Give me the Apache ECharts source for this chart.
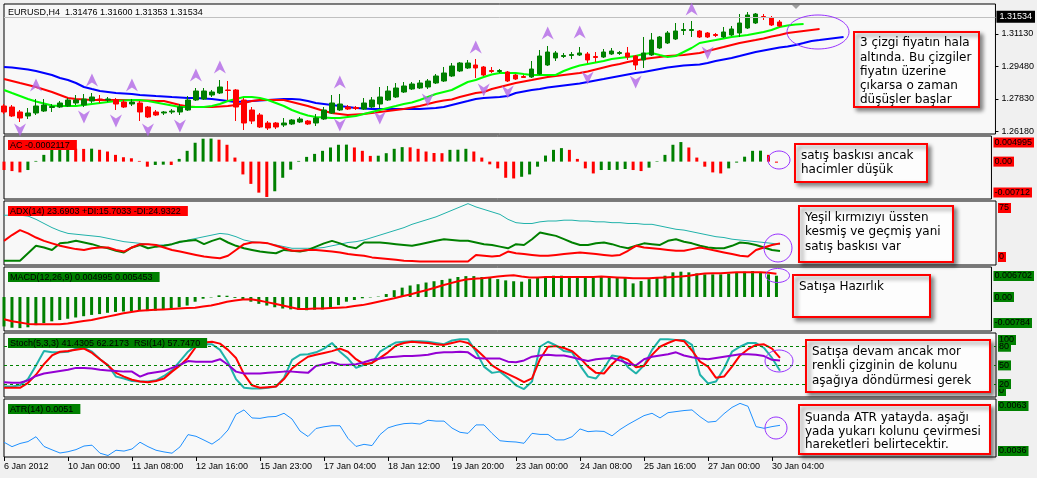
<!DOCTYPE html>
<html><head><meta charset="utf-8">
<script src="https://cdn.jsdelivr.net/npm/echarts@6/dist/echarts.min.js"></script>
<style>html,body{margin:0;padding:0;background:#f0f0f0;}#c{width:1037px;height:478px;}</style>
</head><body><div id="c"></div>
<script>
// ---------- DATA ----------
const tickLabels = ['6 Jan 2012','10 Jan 00:00','11 Jan 08:00','12 Jan 16:00','15 Jan 23:00','17 Jan 04:00','18 Jan 12:00','19 Jan 20:00','23 Jan 00:00','24 Jan 08:00','25 Jan 16:00','27 Jan 00:00','30 Jan 04:00'];
const BARS_PER_TICK = 8;
const SLOTS = 125; // bar slots incl. chart shift area
const categories = Array.from({length: SLOTS}, (_, i) => 'b' + i);

// [open, close, low, high]
const candles = [
[1.27474,1.27170,1.27068,1.27576],[1.27423,1.26967,1.26916,1.27525],[1.27170,1.26865,1.26662,1.27271],[1.26967,1.27119,1.26814,1.27373],
[1.27119,1.27474,1.27017,1.27830],[1.27220,1.27525,1.27170,1.27830],[1.27398,1.27449,1.27170,1.27576],[1.27423,1.27627,1.27373,1.27728],
[1.27474,1.27779,1.27423,1.27880],[1.27627,1.27779,1.27525,1.28033],[1.27525,1.27830,1.27423,1.28084],[1.27728,1.27931,1.27627,1.28134],
[1.27830,1.27804,1.27627,1.28033],[1.27779,1.27830,1.27677,1.27931],[1.27779,1.27576,1.27271,1.27880],[1.27677,1.27423,1.27373,1.27779],
[1.27576,1.27677,1.27474,1.27830],[1.27627,1.27170,1.26713,1.27728],[1.27423,1.26916,1.26865,1.27474],[1.27170,1.27017,1.26967,1.27271],
[1.27119,1.27170,1.27017,1.27220],[1.27170,1.27220,1.27068,1.27322],[1.27170,1.27423,1.27017,1.27576],[1.27271,1.27779,1.27220,1.27982],
[1.27779,1.28236,1.27728,1.28388],[1.27830,1.28236,1.27779,1.28388],[1.28033,1.28185,1.27931,1.28287],[1.28134,1.28439,1.28084,1.28794],
[1.28287,1.28262,1.27779,1.28744],[1.28287,1.27423,1.26713,1.28337],[1.27779,1.26611,1.26256,1.27880],[1.27271,1.26713,1.26560,1.27423],
[1.27017,1.26408,1.26357,1.27119],[1.26611,1.26357,1.26256,1.26713],[1.26611,1.26408,1.26306,1.26662],[1.26510,1.26611,1.26408,1.26865],
[1.26560,1.26763,1.26510,1.26814],[1.26662,1.26814,1.26611,1.26916],[1.26713,1.26560,1.26510,1.26763],[1.26611,1.26865,1.26459,1.27068],
[1.26814,1.27271,1.26763,1.27423],[1.27119,1.27627,1.27068,1.28033],[1.27271,1.27576,1.27220,1.28084],[1.27423,1.27322,1.27271,1.27525],
[1.27398,1.27347,1.27271,1.27474],[1.27322,1.27627,1.27271,1.27880],[1.27423,1.27779,1.27373,1.27931],[1.27576,1.27931,1.27373,1.28439],
[1.27779,1.28236,1.27728,1.28490],[1.27931,1.28388,1.27880,1.28642],[1.28185,1.28490,1.28134,1.28693],[1.28337,1.28591,1.28287,1.28693],
[1.28388,1.28642,1.28337,1.28794],[1.28439,1.28744,1.28337,1.28845],[1.28642,1.28998,1.28591,1.29099],[1.28744,1.29150,1.28693,1.29455],
[1.28998,1.29506,1.28947,1.29658],[1.29252,1.29658,1.29201,1.29709],[1.29404,1.29658,1.29353,1.29810],[1.29556,1.29404,1.28896,1.29861],
[1.29455,1.29049,1.28998,1.29506],[1.29277,1.29226,1.29150,1.29455],[1.29226,1.29277,1.29150,1.29353],[1.29201,1.28744,1.28693,1.29252],
[1.29049,1.28845,1.28794,1.29099],[1.28972,1.28922,1.28896,1.29049],[1.28947,1.29353,1.28896,1.29759],[1.29099,1.30013,1.29049,1.30318],
[1.29556,1.30216,1.29506,1.30521],[1.29912,1.30166,1.29759,1.30267],[1.29988,1.30038,1.29912,1.30166],[1.30038,1.30090,1.29861,1.30216],
[1.30064,1.30166,1.30013,1.30470],[1.30115,1.29810,1.29658,1.30216],[1.29988,1.29937,1.29709,1.30216],[1.29963,1.30216,1.29912,1.30369],
[1.30115,1.30267,1.30064,1.30419],[1.30140,1.30191,1.30064,1.30267],[1.30166,1.29963,1.29810,1.30470],[1.30013,1.29556,1.29302,1.30064],
[1.29810,1.30166,1.29404,1.30978],[1.30064,1.30825,1.30013,1.31181],[1.30419,1.30978,1.30369,1.31029],[1.30673,1.31181,1.30622,1.31282],
[1.30876,1.31282,1.30825,1.31688],[1.31308,1.31358,1.31079,1.31688],[1.31308,1.31358,1.30978,1.31790],[1.31282,1.30978,1.30927,1.31333],
[1.31181,1.30978,1.30927,1.31232],[1.31105,1.31054,1.30978,1.31181],[1.30978,1.31232,1.30927,1.31485],[1.31079,1.31384,1.31029,1.31536],
[1.31181,1.31688,1.30978,1.32145],[1.31435,1.32094,1.31384,1.32246],[1.31688,1.32145,1.31638,1.32196],[1.32018,1.31967,1.31841,1.32145],
[1.31942,1.31587,1.31536,1.32043],[1.31739,1.31534,1.31485,1.31841]
];

// Alligator (shifted forward)
const jaw = [1.29455,1.2943,1.29379,1.29328,1.29252,1.2915,1.29049,1.28896,1.28794,1.28642,1.28439,1.28337,1.28236,1.28185,1.28134,1.28109,1.28084,1.28033,1.28008,1.27982,
1.27957,1.27931,1.27906,1.2788,1.2788,1.27855,1.2783,1.27779,1.27728,1.27677,1.27703,1.27728,1.27754,1.27779,1.27804,1.2783,1.2783,1.27804,1.27728,1.27627,
1.27576,1.27525,1.27474,1.27423,1.27373,1.27347,1.27322,1.27322,1.27322,1.27322,1.27322,1.27322,1.27322,1.27347,1.27373,1.27423,1.27525,1.27627,1.27728,1.2783,
1.2788,1.27906,1.27931,1.27982,1.28134,1.28211,1.28287,1.28337,1.28414,1.28465,1.28516,1.28566,1.28617,1.28693,1.28769,1.28845,1.28922,1.28998,1.29074,1.2915,
1.29201,1.29277,1.29353,1.2943,1.29481,1.29531,1.29556,1.29582,1.29658,1.29759,1.29836,1.29912,1.30013,1.30115,1.30216,1.30293,1.30369,1.30445,1.30496,1.30572,
1.30673,1.30775,1.30825,1.30876,1.30927,1.30978];
const teeth = [1.28845,1.28744,1.28642,1.28541,1.28439,1.28312,1.28185,1.28033,1.2788,1.2783,1.27804,1.27779,1.27779,1.27779,1.27779,1.27779,1.27779,1.27754,1.27754,1.27728,
1.27728,1.27627,1.27525,1.27449,1.27423,1.27423,1.27423,1.27449,1.27474,1.27525,1.27627,1.27728,1.27779,1.27779,1.27779,1.27779,1.27677,1.27576,1.27474,1.27347,
1.2722,1.27119,1.27068,1.27017,1.27043,1.27068,1.27119,1.2717,1.2722,1.27271,1.27322,1.27398,1.27474,1.27576,1.27677,1.27754,1.27804,1.27931,1.28033,1.28134,
1.28185,1.28337,1.28439,1.28541,1.28642,1.28719,1.28794,1.28871,1.28947,1.28998,1.29049,1.29099,1.2915,1.29226,1.29328,1.2943,1.29531,1.29607,1.29709,1.29785,
1.29861,1.29912,1.29963,1.30013,1.30039,1.30064,1.30115,1.30166,1.30267,1.30369,1.3047,1.30572,1.30673,1.3075,1.30825,1.30902,1.31003,1.31079,1.31181,1.31232,
1.31282,1.31333,1.31384];
const lips = [1.28287,1.28134,1.27982,1.2783,1.27703,1.27601,1.275,1.27474,1.27474,1.27474,1.27525,1.27576,1.27627,1.27677,1.27728,1.27754,1.27779,1.27779,1.27728,1.27652,
1.27576,1.275,1.27423,1.27423,1.27423,1.27423,1.27474,1.27576,1.27728,1.2783,1.27931,1.27931,1.2788,1.27779,1.27627,1.27474,1.27271,1.27119,1.26992,1.26916,
1.26891,1.26865,1.26865,1.26916,1.26967,1.27068,1.2717,1.27271,1.27373,1.27474,1.27576,1.27652,1.27779,1.27931,1.28084,1.28185,1.28287,1.2849,1.28693,1.28794,
1.28947,1.29074,1.2915,1.2915,1.2915,1.29099,1.29049,1.29049,1.29049,1.29049,1.29252,1.29404,1.29531,1.29607,1.29683,1.29759,1.29861,1.29912,1.29963,1.30013,
1.30115,1.30166,1.30064,1.29963,1.30013,1.30216,1.30419,1.30673,1.3075,1.30825,1.30902,1.30978,1.31029,1.31079,1.31156,1.31232,1.31333,1.31485,1.31562,1.31612,
1.31638];

// Fractals [barIndex, price]
const fractalsUp = [[4,1.28541],[11,1.28794],[16,1.28541],[24,1.29049],[27,1.29455],[42,1.28693],[59,1.30470],[68,1.31181],[72,1.31232],[86,1.32399]];
const fractalsDown = [[2,1.26256],[10,1.26916],[14,1.26713],[18,1.26256],[22,1.26459],[42,1.26510],[47,1.26865],[53,1.27779],[60,1.28287],[63,1.28185],[73,1.28896],[79,1.28693],[88,1.30166]];

const acValues = [-0.00171,-0.00192,-0.00219,-0.00171,0.00014,0.00137,0.00239,0.00260,0.00265,0.00262,
0.00258,0.00263,0.00240,0.00205,0.00137,0.00089,0.00068,0.00014,-0.00103,-0.00068,
-0.00062,-0.00068,0.00055,0.00219,0.00383,0.00465,0.00468,0.00445,0.00342,0.00082,
-0.00260,-0.00452,-0.00630,-0.00719,-0.00602,-0.00328,-0.00164,0.00014,0.00096,0.00157,
0.00219,0.00287,0.00342,0.00345,0.00287,0.00219,0.00116,0.00120,0.00171,0.00260,
0.00294,0.00290,0.00260,0.00205,0.00175,0.00171,0.00239,0.00242,0.00260,0.00205,
0.00082,-0.00055,-0.00137,-0.00328,-0.00342,-0.00308,-0.00260,-0.00103,0.00123,0.00239,
0.00274,0.00239,0.00055,-0.00137,-0.00240,-0.00171,-0.00170,-0.00168,-0.00150,-0.00171,
-0.00192,-0.00123,0.00010,0.00137,0.00342,0.00397,0.00287,0.00082,-0.00103,-0.00219,
-0.00240,-0.00137,-0.00020,0.00100,0.00219,0.00222,0.00137,-0.0002117];

const adxMain = [59,59,59,58,54,49,44,40,37,36,35,34,33,31,29,27,26,25,24,23,23,24,26,29,31,33,35,37,36,33,29,27,26,25,23,21,19,19,19,19,
20,22,24,26,27,29,32,35,38,41,44,48,51,54,57,61,65,69,73,69,66,63,60,54,50,49,49,51,52,52,53,53,52,52,51,51,50,50,49,49,
48,48,46,44,42,41,39,37,35,33,32,30,29,28,27,26,25,23.6903];
const plusDI = [4,4,4,13,22,20,17,25,26,28,26,24,21,19,16,14,20,23,19,21,22,24,27,28,29,24,28,31,26,22,19,17,15,14,13,17,16,15,17,21,
25,28,25,21,19,26,26,26,25,24,23,22,24,26,28,30,29,28,28,26,24,23,21,19,24,23,30,38,36,34,30,26,23,23,25,26,24,21,19,22,
25,24,23,28,30,27,25,22,20,19,19,22,26,25,23,20,17,15.7033];
const minusDI = [28,35,41,37,32,28,25,22,20,18,17,19,20,20,17,15,20,24,24,23,20,17,15,13,11,9,8,7,10,17,24,26,26,25,22,19,16,16,17,17,
16,15,14,12,11,10,8,7,6,5,4,3.5,3,3,3,3,3,3,3,11,10,9,10,15,13,12,11,10,10,11,12,13,14,13,12,11,10,11,16,22,
20,19,18,17,16,16,18,20,18,16,14,12,10,9,17,20,23,24.9322];

const macdMain = [-0.0069,-0.0072,-0.0073,-0.0071,-0.0066,-0.0061,-0.0057,-0.0054,-0.0051,-0.0048,-0.0045,-0.0042,-0.0040,-0.0037,-0.0035,-0.0034,-0.0033,-0.0032,-0.0033,-0.0032,
-0.0030,-0.0027,-0.0024,-0.0020,-0.0011,-0.0004,-0.0001,0.0004,0.0003,-0.0002,-0.0007,-0.0011,-0.0016,-0.0020,-0.0024,-0.0027,-0.0029,-0.0030,-0.0031,-0.0030,
-0.0029,-0.0027,-0.0019,-0.0011,-0.0007,-0.0003,-0.0001,0.0001,0.0007,0.0016,0.0022,0.0027,0.0030,0.0034,0.0037,0.0040,0.0043,0.0047,0.0049,0.0049,
0.0047,0.0045,0.0042,0.0039,0.0037,0.0036,0.0042,0.00454,0.00477,0.0050,0.0050,0.00477,0.00477,0.00454,0.00454,0.0047,0.00477,0.0047,0.00454,0.0032,
0.00375,0.0042,0.00454,0.0050,0.00579,0.00594,0.00579,0.00555,0.00532,0.00532,0.00532,0.00547,0.00563,0.00594,0.0061,0.00579,0.00532,0.004995];
const macdSignal = [-0.0052,-0.0057,-0.0060,-0.0063,-0.0064,-0.0064,-0.0064,-0.0064,-0.0062,-0.0059,-0.0056,-0.0054,-0.0050,-0.0046,-0.0042,-0.0038,-0.0035,-0.0032,-0.0031,-0.0030,
-0.0029,-0.0028,-0.0027,-0.0026,-0.0025,-0.0022,-0.0020,-0.0016,-0.0011,-0.0008,-0.0006,-0.0005,-0.0008,-0.0012,-0.0016,-0.0020,-0.0024,-0.0028,-0.0028,-0.0027,
-0.0027,-0.0026,-0.0025,-0.0024,-0.0021,-0.0019,-0.0015,-0.0011,-0.0007,-0.0003,0.0002,0.0006,0.0011,0.0016,0.0021,0.0027,0.0032,0.0037,0.0041,0.0043,
0.0044,0.0046,0.0048,0.0050,0.0051,0.0048,0.0046,0.0046,0.0047,0.0047,0.0047,0.0047,0.0047,0.0047,0.0047,0.0048,0.0047,0.0046,0.0045,0.0044,
0.0044,0.0044,0.0045,0.0046,0.0047,0.0048,0.0050,0.0053,0.0055,0.0056,0.0056,0.0057,0.0058,0.0058,0.0058,0.0058,0.0057,0.005453];

const stochMain = [16,16,18,28,50,73,71,71,72,77,78,72,60,50,32,29,25,24,24,26,33,42,57,72,83,84,84,75,55,28,14,13,13,14,16,30,59,67,68,71,
77,86,72,61,46,51,54,72,80,87,88,89,89,88,86,84,90,92,92,72,48,38,40,30,18,12,24,80,88,82,73,71,50,32,29,45,66,64,47,37,
50,75,92,92,91,91,83,35,21,24,45,72,80,86,86,78,62,41.4305];
const stochSignal = [14,14,14,22,35,52,66,72,73,75,77,70,60,50,38,32,27,24,23,25,29,40,50,62,80,87,88,85,75,62,36,18,14,15,16,28,45,55,64,67,
70,73,77,72,60,52,54,62,71,82,86,88,87,86,84,83,86,89,86,76,64,50,42,36,30,23,29,60,80,81,78,73,62,48,38,37,52,64,59,47,
49,67,80,86,91,89,74,56,48,30,32,48,66,76,83,84,77,62.2173];
const rsiValues = [23,22,22,26,33,37,39,41,43,46,46,45,43,42,41,40,40,32,37,39,41,46,51,57,56,56,56,60,51,40,37,37,37,38,39,40,40,39,38,49,
52,55,51,51,52,55,59,61,63,64,65,65,66,67,70,71,71,72,71,62,61,61,61,56,55,58,64,66,67,66,66,63,60,57,60,61,62,58,53,50,
60,64,66,68,71,66,63,61,60,62,64,66,68,68,67,65,59,57.747];
const stochLevels = [80, 50, 20];

const atrValues = [0.00430,0.00409,0.00424,0.00433,0.00456,0.00410,0.00394,0.00379,0.00385,0.00395,0.00412,0.00416,0.00378,0.00367,0.00392,0.00388,0.00398,0.00430,0.00409,0.00392,
0.00384,0.00378,0.00408,0.00466,0.00458,0.00440,0.00421,0.00447,0.00488,0.00562,0.00583,0.00545,0.00543,0.00550,0.00552,0.00567,0.00540,0.00483,0.00457,0.00495,
0.00503,0.00508,0.00508,0.00448,0.00410,0.00420,0.00414,0.00466,0.00498,0.00510,0.00518,0.00520,0.00516,0.00534,0.00530,0.00530,0.00497,0.00477,0.00472,0.00512,
0.00512,0.00472,0.00437,0.00433,0.00431,0.00425,0.00472,0.00467,0.00467,0.00441,0.00441,0.00456,0.00493,0.00480,0.00483,0.00481,0.00460,0.00490,0.00514,0.00535,
0.00556,0.00567,0.00545,0.00570,0.00575,0.00580,0.00583,0.00551,0.00525,0.00529,0.00565,0.00595,0.00614,0.00600,0.00504,0.00496,0.00504,0.00510];

// axis tick labels
const priceTicks = [1.31130, 1.29480, 1.27830, 1.26180];
const acLabels = ['0.004995','0.00','-0.00712'];
const adxLabels = ['75','0'];
const macdLabels = ['0.006702','0.00','-0.00784'];
const stochLabelsA = ['100','50','0'];
const stochLabelsB = ['80','20'];
const atrLabels = ['0.0063','0.0036'];

// texts
const titles = ['EURUSD,H4  1.31476 1.31600 1.31353 1.31534','AC -0.0002117','ADX(14) 23.6903 +DI:15.7033 -DI:24.9322','MACD(12,26,9) 0.004995 0.005453','Stoch(5,3,3) 41.4305 62.2173  RSI(14) 57.7470','ATR(14) 0.0051'];
const notes = [
  ['3 çizgi fiyatın hala','altında. Bu çizgiler','fiyatın üzerine','çıkarsa o zaman','düşüşler başlar'],
  ['satış baskısı ancak','hacimler düşük'],
  ['Yeşil kırmızıyı üssten','kesmiş ve geçmiş yani','satış baskısı var'],
  ['Satışa Hazırlık'],
  ['Satışa devam ancak mor','renkli çizginin de kolunu','aşağıya döndürmesi gerek'],
  ['Şuanda ATR yatayda. aşağı','yada yukarı kolunu çevirmesi','hareketleri belirtecektir.']
];

// ---------- LAYOUT / STYLE ----------
const F = '"Liberation Sans", Arial, sans-serif';
const GREEN = '#008000', RED = '#ff0000';
const gridDefs = [{top:4,height:130},{top:136,height:63},{top:201,height:64},{top:267,height:64},{top:333,height:64},{top:399,height:58}];
const ranges = [{min:1.26053,max:1.32653},{min:-0.00759,max:0.0052},{min:-1.21,max:76.2},{min:-0.00797,max:0.00704},{min:-0.8,max:102.1},{min:0.0036,max:0.006347}];
function inset(k, px, fromTop){ const r=ranges[k], d=(r.max-r.min)*px/gridDefs[k].height; return fromTop ? r.max-d : r.min+d; }
function nearest(vals, v){ let b=0; vals.forEach((x,i)=>{ if(Math.abs(x-v)<Math.abs(vals[b]-v)) b=i; }); return b; }

const grid = gridDefs.map(g => ({left:4, right:41, top:g.top, height:g.height, show:true, backgroundColor:'#f8f8f8', borderColor:'#000', borderWidth:1}));
const tickShow = (i) => i % BARS_PER_TICK === 0 && i / BARS_PER_TICK < tickLabels.length;
const xAxis = gridDefs.map((g,k) => ({
  type:'category', gridIndex:k, data:categories, boundaryGap:false,
  axisLine:{show:false}, splitLine:{show:false},
  axisTick:{show:k===5, interval:tickShow, length:4, lineStyle:{color:'#000'}},
  axisLabel:{show:k===5, interval:tickShow, formatter:(v,i)=> tickShow(i) ? tickLabels[i/BARS_PER_TICK] : '', align:'left', margin:5, fontSize:9, fontFamily:F, color:'#000'}
}));
function yAx(k, vals, texts, extra){
  const r = ranges[k];
  return {type:'value', gridIndex:k, position:'right', min:r.min, max:r.max, splitLine:{show:false}, axisLine:{show:false},
    axisTick: k===0 ? {show:true, customValues:vals, length:3, lineStyle:{color:'#000'}} : {show:false},
    axisLabel: Object.assign({customValues:vals, hideOverlap:false, showMinLabel:true, showMaxLabel:true, formatter:(v)=>texts[nearest(vals,v)], fontSize:9, fontFamily:F, color:'#000'}, extra)};
}
const boxLbl = (bg) => ({margin:2, backgroundColor:bg, padding:[1,2,0,1], lineHeight:9});
const yAxis = [
  yAx(0, priceTicks, priceTicks.map(v=>v.toFixed(5)), {margin:6}),
  yAx(1, [inset(1,6.5,true), 0, inset(1,6.5,false)], acLabels, boxLbl(RED)),
  yAx(2, [inset(2,7,true), inset(2,8,false)], adxLabels, boxLbl(RED)),
  yAx(3, [inset(3,9,true), 0, inset(3,8,false)], macdLabels, boxLbl(GREEN)),
  yAx(4, [inset(4,7,true), 50, inset(4,6,false)], stochLabelsA, boxLbl(GREEN)),
  yAx(5, [inset(5,7,true), inset(5,6,false)], atrLabels, boxLbl(GREEN)),
  yAx(4, [80, 20], stochLabelsB, boxLbl(GREEN))   // level labels drawn over
];

const titleTops = [8,140,206,272,338,404];
const titleBg = [null, RED, RED, GREEN, GREEN, GREEN];
const title = titles.map((t,k) => ({text:t, left:8, top:titleTops[k], padding: k===0 ? 0 : [1,7,0,2], backgroundColor: titleBg[k] || 'transparent',
  textStyle:{fontSize:9, fontWeight:'normal', color:'#000', fontFamily:F, lineHeight:9}}));

const ARROW = 'path://M6,0 L12,13 L6,9 L0,13 Z';
const lastClose = candles[candles.length-1][1];
const line = (k, data, color, width, z) => ({type:'line', xAxisIndex:k, yAxisIndex:k, data, symbol:'none', showSymbol:false, z:z||2, lineStyle:{color, width}, itemStyle:{color}});

const series = [
  line(0, jaw, '#0000ff', 2), line(0, teeth, RED, 2), line(0, lips, '#00ff00', 2),
  {type:'candlestick', xAxisIndex:0, yAxisIndex:0, data:candles, barWidth:5, z:3,
    itemStyle:{color:GREEN, color0:RED, borderColor:GREEN, borderColor0:RED, borderWidth:1},
    markLine:{silent:true, symbol:'none', lineStyle:{color:'#c0c0c0', width:1, type:'solid'},
      label:{show:true, position:'end', distance:1, formatter:()=>lastClose.toFixed(5), backgroundColor:'#000', color:'#fff', padding:[2,3,1,3], fontSize:9, fontFamily:F},
      data:[{yAxis:lastClose}]}},
  {type:'scatter', xAxisIndex:0, yAxisIndex:0, data:fractalsUp, symbol:ARROW, symbolSize:[12,13], z:4, itemStyle:{color:'#b266e6'}},
  {type:'scatter', xAxisIndex:0, yAxisIndex:0, data:fractalsDown, symbol:ARROW, symbolSize:[12,13], symbolRotate:180, z:4, itemStyle:{color:'#b266e6'}},
  {type:'bar', xAxisIndex:1, yAxisIndex:1, data:acValues, barWidth:3,
    itemStyle:{color:(p)=> (p.dataIndex>0 && acValues[p.dataIndex] > acValues[p.dataIndex-1]) ? GREEN : RED}},
  line(2, adxMain, '#20b2aa', 1), line(2, plusDI, GREEN, 2), line(2, minusDI, RED, 2),
  {type:'bar', xAxisIndex:3, yAxisIndex:3, data:macdMain, barWidth:3, itemStyle:{color:GREEN}},
  line(3, macdSignal, RED, 2),
  Object.assign(line(4, stochMain, '#20b2aa', 2), {markLine:{silent:true, symbol:'none', label:{show:false}, lineStyle:{color:GREEN, type:[3,3], width:1}, data:stochLevels.map(v=>({yAxis:v}))}}),
  line(4, stochSignal, RED, 2), line(4, rsiValues, '#9400d3', 2),
  line(5, atrValues, '#1e90ff', 1)
];

// annotations (decoration)
const noteBoxes = [
  {x:854,y:32,w:125,h:75,ty:36,lh:14.3},{x:795,y:144,w:132,h:38,ty:149,lh:13.8},{x:799,y:206,w:154,h:56,ty:211,lh:14.2},
  {x:793,y:275,w:137,h:42,ty:280,lh:14},{x:806,y:340,w:184,h:52,ty:345,lh:14.2},{x:799,y:405,w:191,h:49,ty:411,lh:13.7}
];
const ellipses = [{cx:818,cy:32,rx:31,ry:17},{cx:779,cy:160,rx:11,ry:9},{cx:778,cy:248,rx:14,ry:14},{cx:777.5,cy:275.5,rx:12,ry:7},{cx:779,cy:361,rx:14,ry:11},{cx:776,cy:428,rx:11,ry:11}];
const graphic = [];
graphic.push({type:'polygon', shape:{points:[[792,5],[800,5],[796,9]]}, style:{fill:'#a0a0a0'}, z:50});
ellipses.forEach(e => graphic.push({type:'ellipse', shape:e, style:{fill:'none', stroke:'#9933ff', lineWidth:1}, z:60}));
noteBoxes.forEach((b,i) => {
  graphic.push({type:'rect', shape:{x:b.x, y:b.y, width:b.w, height:b.h}, style:{fill:'#fdfdfd', stroke:RED, lineWidth:2, shadowBlur:4, shadowOffsetX:3, shadowOffsetY:3, shadowColor:'rgba(0,0,0,0.45)'}, z:100});
  graphic.push({type:'text', x:b.x+6, y:b.ty, style:{text:notes[i].join('\n'), fill:'#000', font:'12px "DejaVu Sans"', lineHeight:b.lh, verticalAlign:'top', align:'left'}, z:101});
});

const chart = echarts.init(document.getElementById('c'), null, {renderer:'canvas'});
chart.setOption({animation:false, backgroundColor:'transparent', title, grid, xAxis, yAxis, series, graphic});
</script></body></html>
